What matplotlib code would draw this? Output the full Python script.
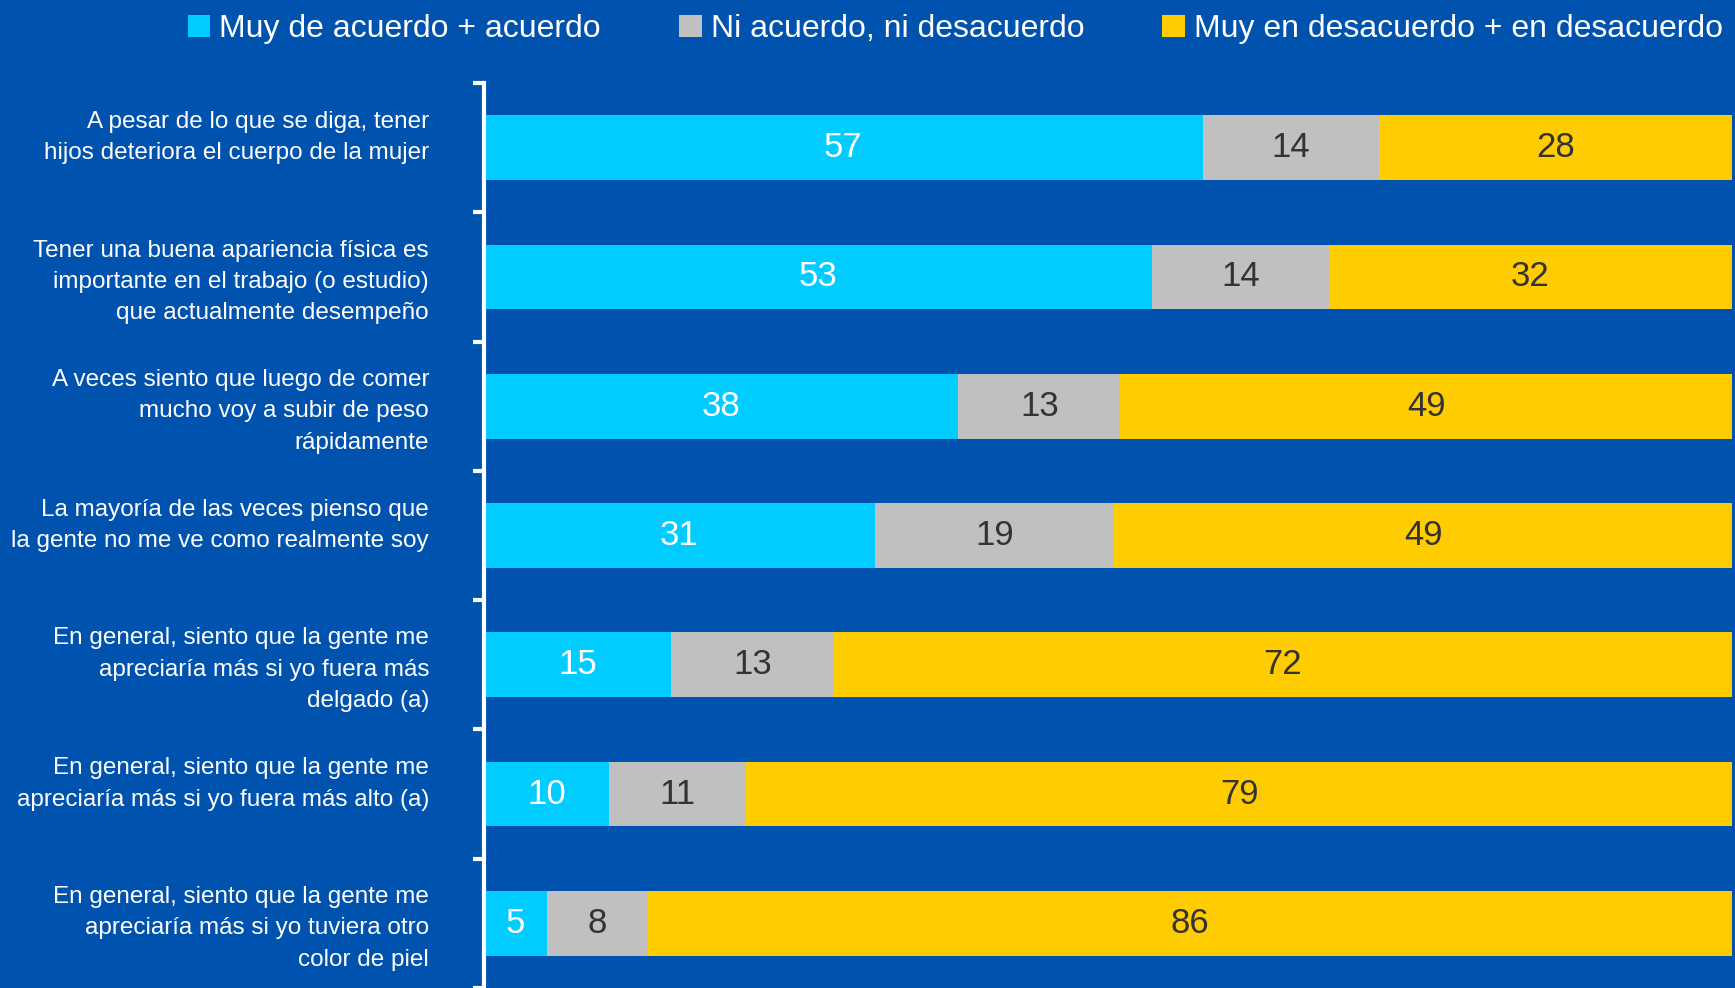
import matplotlib
matplotlib.use("Agg")
import matplotlib.pyplot as plt
import matplotlib.transforms as mtransforms
import numpy as np

plt.rcParams['font.family'] = ['Liberation Sans', 'DejaVu Sans']

categories = [
    "A pesar de lo que se diga, tener\nhijos deteriora el cuerpo de la mujer",
    "Tener una buena apariencia física es\nimportante en el trabajo (o estudio)\nque actualmente desempeño",
    "A veces siento que luego de comer\nmucho voy a subir de peso\nrápidamente",
    "La mayoría de las veces pienso que\nla gente no me ve como realmente soy",
    "En general, siento que la gente me\napreciaría más si yo fuera más\ndelgado (a)",
    "En general, siento que la gente me\napreciaría más si yo fuera más alto (a)",
    "En general, siento que la gente me\napreciaría más si yo tuviera otro\ncolor de piel",
]
series_names = ["Muy de acuerdo + acuerdo", "Ni acuerdo, ni desacuerdo",
                "Muy en desacuerdo + en desacuerdo"]
acuerdo = [57, 53, 38, 31, 15, 10, 5]
neutral = [14, 14, 13, 19, 13, 11, 8]
desacuerdo = [28, 32, 49, 49, 72, 79, 86]

BG = "#0052AF"
colors = ["#00CCFF", "#C0C0C0", "#FFCC00"]
label_colors = ["white", "#333333", "#333333"]

fig = plt.figure(figsize=(17.35, 9.88), dpi=100, facecolor=BG)
ax = fig.add_axes([484/1735, 0/988, (1732-484)/1735, (986-81)/988])
ax.set_facecolor(BG)

data = np.array([acuerdo, neutral, desacuerdo], dtype=float)
totals = data.sum(axis=0)
shares = data / totals * 100
y = np.arange(len(categories))
left = np.zeros(len(categories))
for i in range(3):
    bars = ax.barh(y, shares[i], left=left, height=0.5, color=colors[i],
                   label=series_names[i])
    for j, b in enumerate(bars):
        ax.text(left[j] + shares[i][j] / 2, y[j], f"{int(data[i][j])}",
                ha="center", va="center", fontsize=25, color=label_colors[i])
    left += shares[i]

ax.set_xlim(0, 100)
ax.set_ylim(len(categories) - 0.5, -0.5)
ax.set_yticks(y)
ax.set_yticklabels([""] * len(categories))
blend = mtransforms.blended_transform_factory(ax.transAxes, ax.transData)
for j, cat in enumerate(categories):
    n = cat.count("\n") + 1
    dy = 10 if n == 2 else -5
    tr = blend + mtransforms.ScaledTranslation(-55 / 100, dy / 100, fig.dpi_scale_trans)
    ax.text(0, y[j], cat, transform=tr, ha="right", va="center",
            multialignment="right", fontsize=17.5, color="white", linespacing=1.55)
ax.set_yticks(np.arange(-0.5, len(categories) + 0.5, 1), minor=True)
ax.tick_params(axis="y", which="major", length=0)
ax.tick_params(axis="y", which="minor", length=8, width=3, color="white", direction="out")
ax.set_xticks([])
for s in ["top", "right", "bottom"]:
    ax.spines[s].set_visible(False)
ax.spines["left"].set_color("white")
ax.spines["left"].set_linewidth(3)

leg = fig.legend(loc="upper right", bbox_to_anchor=(1.004, 1.005), ncol=3, frameon=False,
                 fontsize=23, handlelength=0.7, handleheight=0.7, handletextpad=0.28,
                 columnspacing=2.45, borderaxespad=0.2)
for t in leg.get_texts():
    t.set_color("white")

fig.savefig("out.png", dpi=100, facecolor=BG)
